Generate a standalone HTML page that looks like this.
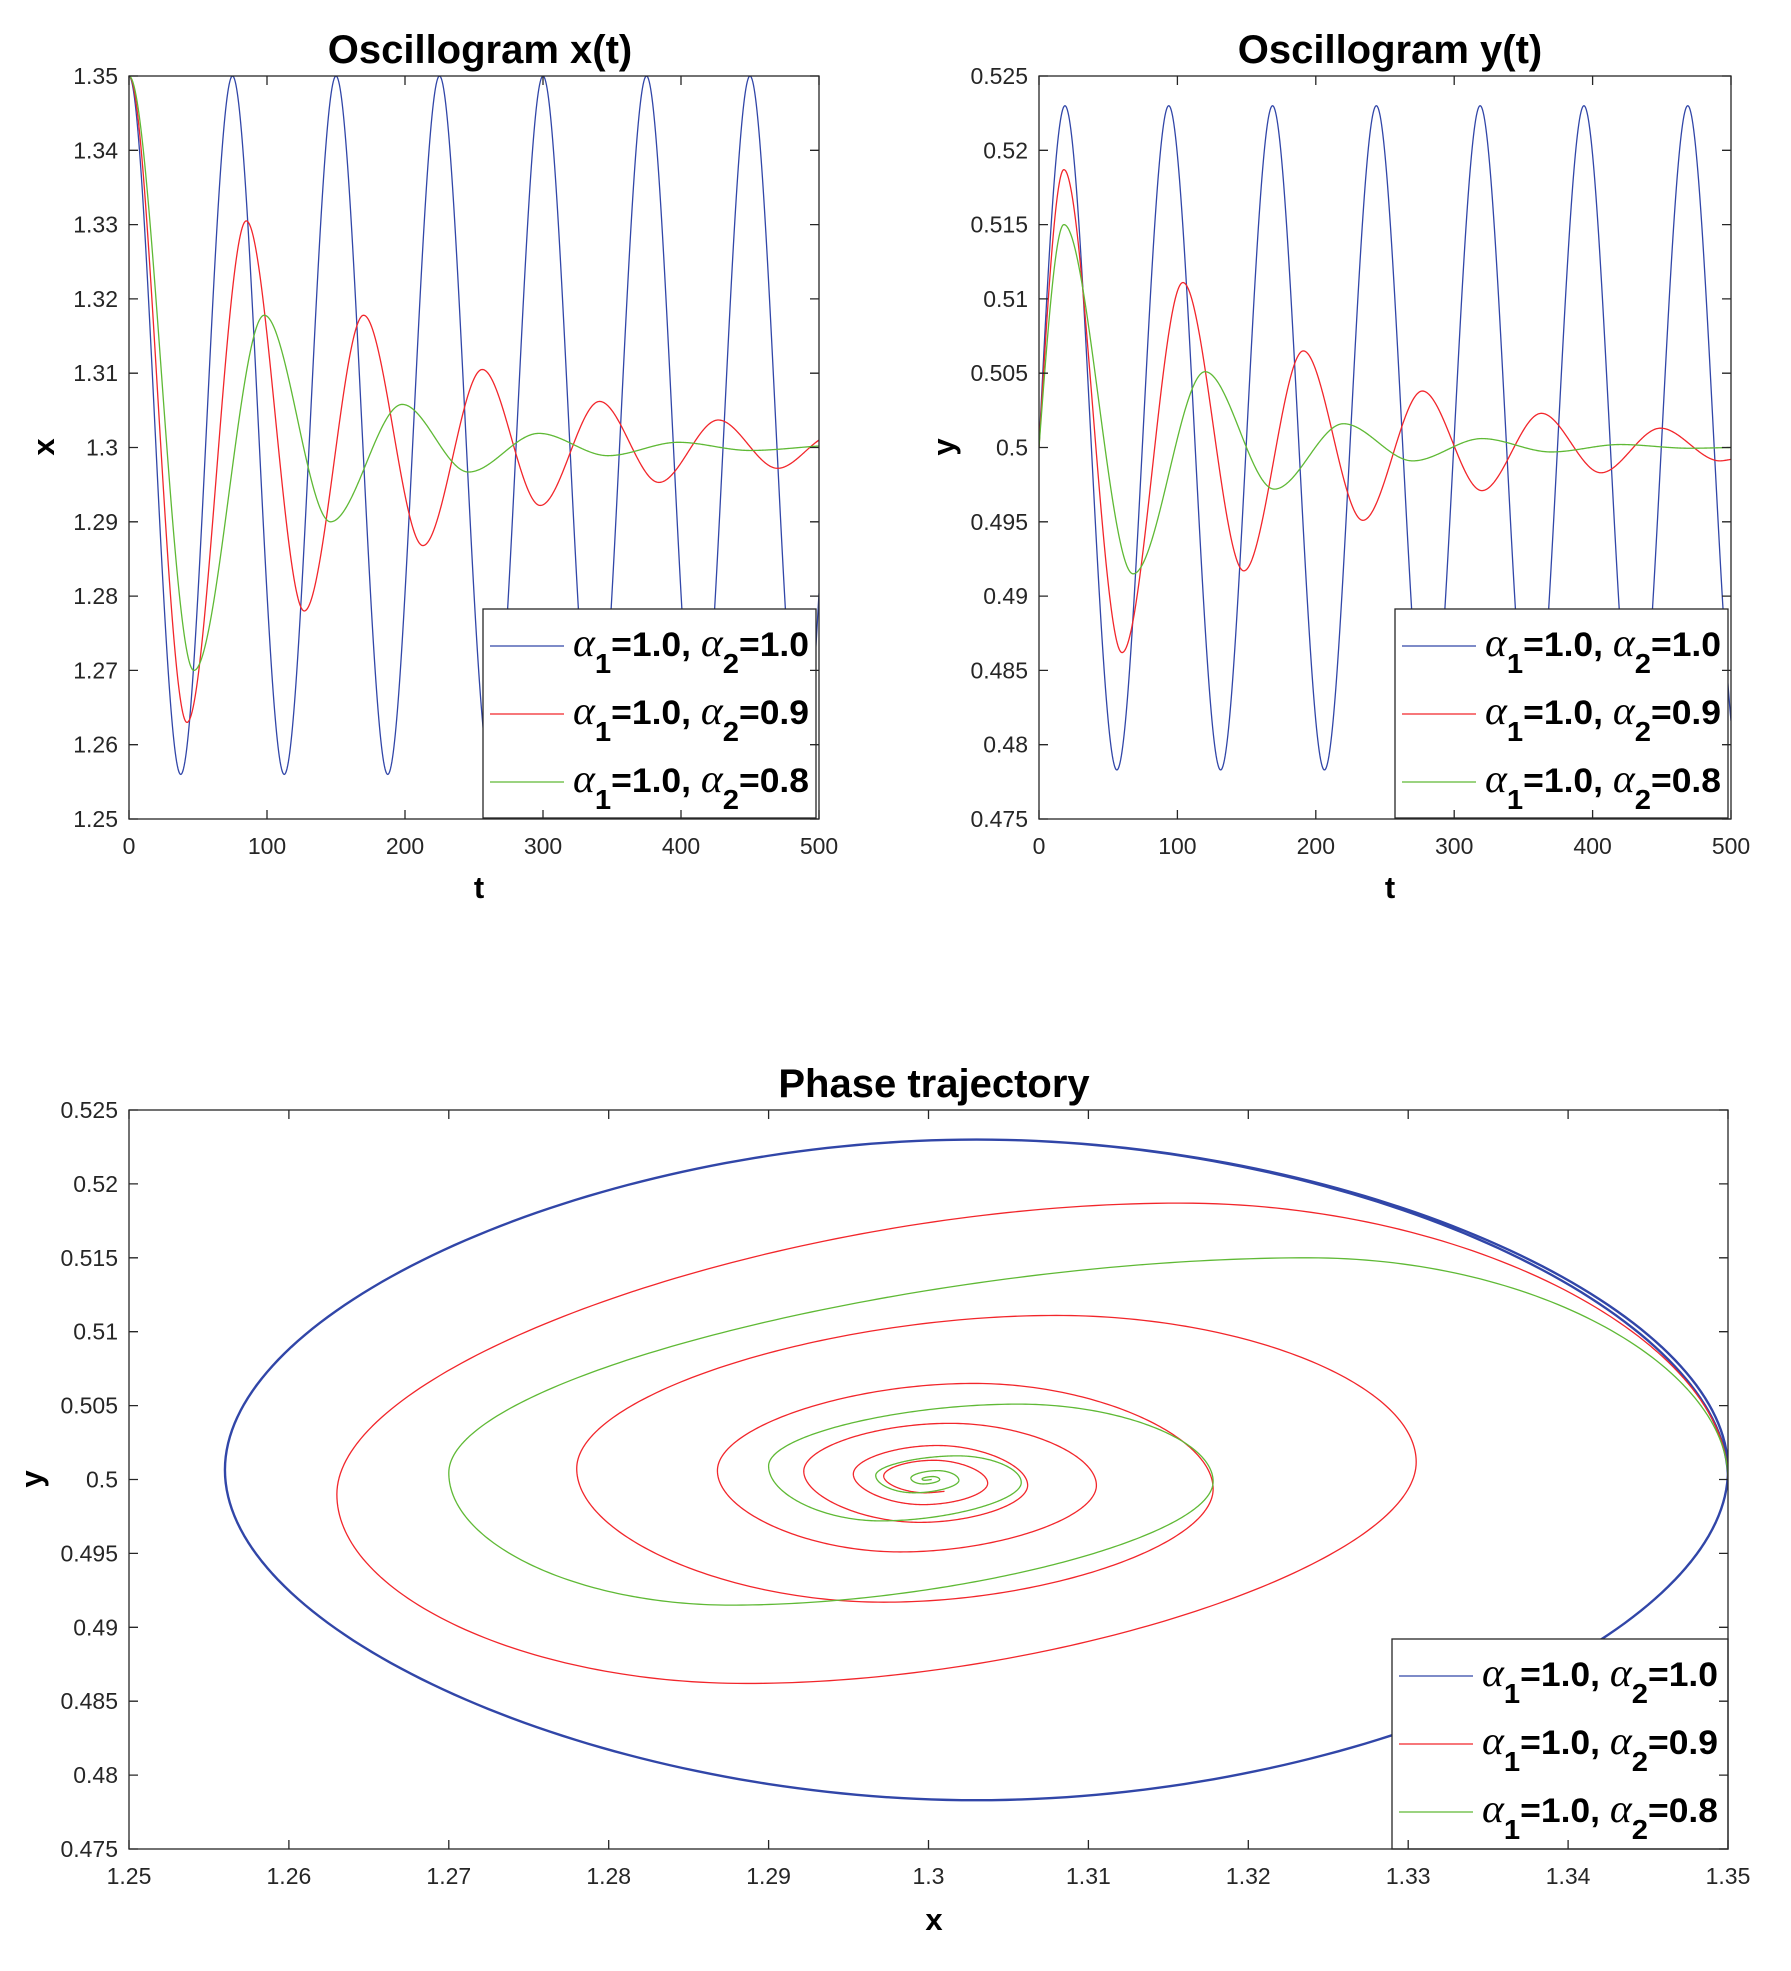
<!DOCTYPE html>
<html><head><meta charset="utf-8"><title>Oscillograms and phase trajectory</title>
<style>
html,body{margin:0;padding:0;background:#fff;}
svg{display:block;font-family:"Liberation Sans",Arial,sans-serif;}
.tick{font-size:23px;fill:#262626;}
.ttl{font-size:40px;font-weight:bold;fill:#000;}
.albl{font-size:31px;font-weight:bold;fill:#000;}
.leg{font-size:34px;font-weight:bold;fill:#000;}
</style></head>
<body>
<svg id="fig" width="1791" height="1971" viewBox="0 0 1791 1971" xmlns="http://www.w3.org/2000/svg">
<defs>
<clipPath id="c1"><rect x="129" y="76" width="690" height="743"/></clipPath>
<clipPath id="c2"><rect x="1039" y="76" width="692" height="743"/></clipPath>
<clipPath id="c3"><rect x="129" y="1110" width="1599" height="739"/></clipPath>
</defs>
</svg>
<script>
// ---- data: extrema times & values ----
const xBlueT=[0,37.5,75,112.5,150,187.5,225,262.5,300,337.5,375,412.5,450,487.5,525];
const xBlueV=[1.35,1.256,1.35,1.256,1.35,1.256,1.35,1.256,1.35,1.256,1.35,1.256,1.35,1.256,1.35];
const xRedT=[0,42,85,127,170,213,256,298,341,384,427,470,500];
const xRedV=[1.35,1.263,1.3305,1.278,1.3178,1.2868,1.3105,1.2922,1.3062,1.2953,1.3037,1.2972,1.301];
const xGreenT=[0,47,98,146,198,246,297,347,398,450,500];
const xGreenV=[1.35,1.270,1.3178,1.290,1.3058,1.2967,1.3019,1.2989,1.3007,1.2996,1.3002];
const yBlueT=[0,18.75,56.25,93.75,131.25,168.75,206.25,243.75,281.25,318.75,356.25,393.75,431.25,468.75,506.25];
const yBlueV=[0.5,0.523,0.4783,0.523,0.4783,0.523,0.4783,0.523,0.4783,0.523,0.4783,0.523,0.4783,0.523,0.4783];
const yRedT=[0,18,60,104,148,191,234,277,320,363,406,449,492,500];
const yRedV=[0.5,0.5187,0.4862,0.5111,0.4917,0.5065,0.4951,0.5038,0.4971,0.5023,0.4983,0.5013,0.4991,0.4992];
const yGreenT=[0,18,68,120,170,220,270,320,370,420,470,500];
const yGreenV=[0.5,0.515,0.4915,0.5051,0.4972,0.5016,0.4991,0.5006,0.4997,0.5002,0.49995,0.5];
const tTicks=[0,100,200,300,400,500];
const xTickLabels=["1.25","1.26","1.27","1.28","1.29","1.3","1.31","1.32","1.33","1.34","1.35"];
const yTickLabels=["0.475","0.48","0.485","0.49","0.495","0.5","0.505","0.51","0.515","0.52","0.525"];
const legendLabels=[["1.0","1.0"],["1.0","0.9"],["1.0","0.8"]];
const colors=["#3146a8","#f2262b","#5fb935"];

const NS="http://www.w3.org/2000/svg";
const svg=document.getElementById('fig');
function mk(tag,attrs,parent){const e=document.createElementNS(NS,tag);for(const k in attrs)e.setAttribute(k,attrs[k]);(parent||svg).appendChild(e);return e;}

function interp(ts,vs,startFlat,endFlat){
  const n=ts.length,d=[],m=[];
  for(let i=0;i<n-1;i++)d.push((vs[i+1]-vs[i])/(ts[i+1]-ts[i]));
  m[0]=startFlat?0:d[0]*1.5;
  for(let i=1;i<n-1;i++){m[i]=(d[i-1]*d[i]<=0)?0:(d[i-1]+d[i])/2;}
  m[n-1]=endFlat?0:d[n-2];
  return function(t){
    let k=0;while(k<n-2&&t>ts[k+1])k++;
    const h=ts[k+1]-ts[k],s=(t-ts[k])/h,s2=s*s,s3=s2*s;
    return (2*s3-3*s2+1)*vs[k]+(s3-2*s2+s)*h*m[k]+(-2*s3+3*s2)*vs[k+1]+(s3-s2)*h*m[k+1];
  };
}
const fx=[interp(xBlueT,xBlueV,true,true),interp(xRedT,xRedV,true,false),interp(xGreenT,xGreenV,true,false)];
const fy=[interp(yBlueT,yBlueV,false,true),interp(yRedT,yRedV,false,false),interp(yGreenT,yGreenV,false,false)];

const A1={x:t=>129+t/500*690,y:v=>819-(v-1.25)/0.1*743};
const A2={x:t=>1039+t/500*692,y:v=>819-(v-0.475)/0.05*743};
const A3={x:v=>129+(v-1.25)/0.1*1599,y:v=>1849-(v-0.475)/0.05*739};

function box(x0,y0,w,h,name){
  const r=mk('rect',{x:x0,y:y0,width:w,height:h,fill:'#fff',stroke:'none'});
  
}
function frame(x0,y0,w,h,name){
  const r=mk('rect',{x:x0,y:y0,width:w,height:h,fill:'none',stroke:'#262626','stroke-width':1.3});
  
}
function xticks(xs,labels,x0,y0,y1,name){
  xs.forEach((px,i)=>{
    const l=mk('path',{d:`M${px},${y1}v-9M${px},${y0}v9`,stroke:'#262626','stroke-width':1.3});
    
    const t=mk('text',{x:px,y:y1+35,'text-anchor':'middle',class:'tick'});t.textContent=labels[i];
    
  });
}
function yticks(ys,labels,x0,x1,name){
  ys.forEach((py,i)=>{
    const l=mk('path',{d:`M${x0},${py}h9M${x1},${py}h-9`,stroke:'#262626','stroke-width':1.3});
    
    const t=mk('text',{x:x0-11,y:py+8,'text-anchor':'end',class:'tick'});t.textContent=labels[i];
    
  });
}
function label(txt,x,y,cls,rot,name){
  const t=mk('text',{x:x,y:y,'text-anchor':'middle',class:cls});
  if(rot)t.setAttribute('transform',`rotate(-90 ${x} ${y})`);
  t.textContent=txt;
  
}
function series(pts,clip,color,w,name){
  const p=mk('polyline',{points:pts.map(q=>q[0].toFixed(2)+','+q[1].toFixed(2)).join(' '),fill:'none',stroke:color,'stroke-width':w,'clip-path':`url(#${clip})`,'stroke-linejoin':'round'});
  
}
function legend(x0,y0,w,h,name){
  const g=mk('g',{});
  
  mk('rect',{x:x0,y:y0,width:w,height:h,fill:'#fff',stroke:'#262626','stroke-width':1.3},g);
  legendLabels.forEach((lab,i)=>{
    const cy=y0+37+i*68;
    const ln=mk('line',{x1:x0+7,x2:x0+81,y1:cy,y2:cy,stroke:colors[i],'stroke-width':1.3},g);
    
    const t=mk('text',{x:x0+90,y:cy+10,class:'leg',textLength:236,lengthAdjust:'spacingAndGlyphs'},g);
    
    t.innerHTML=`<tspan font-family="Liberation Serif, serif" font-style="italic" font-weight="normal" font-size="40">α</tspan><tspan dy="17" font-size="28">1</tspan><tspan dy="-17">=${lab[0]}, </tspan><tspan font-family="Liberation Serif, serif" font-style="italic" font-weight="normal" font-size="40">α</tspan><tspan dy="17" font-size="28">2</tspan><tspan dy="-17">=${lab[1]}</tspan>`;
  });
}

// ---------- plot 1: x(t) ----------
box(129,76,690,743,'x-oscillogram');
for(let s=0;s<3;s++){const pts=[];for(let t=0;t<=500;t+=0.5)pts.push([A1.x(t),A1.y(fx[s](t))]);series(pts,'c1',colors[s],1.3,'x-series-'+s);}
legend(483,609,333,209,'x-oscillogram-legend');
frame(129,76,690,743,'x-oscillogram');
xticks(tTicks.map(A1.x),tTicks.map(String),129,76,819,'x-oscillogram');
yticks(xTickLabels.map(s=>A1.y(parseFloat(s))),xTickLabels,129,819,'x-oscillogram');
label('Oscillogram x(t)',480,63,'ttl',false,'x-oscillogram-title');
label('t',479,898,'albl',false,'x-oscillogram-x-axis-title');
label('x',54,447,'albl',true,'x-oscillogram-y-axis-title');

// ---------- plot 2: y(t) ----------
box(1039,76,692,743,'y-oscillogram');
for(let s=0;s<3;s++){const pts=[];for(let t=0;t<=500;t+=0.5)pts.push([A2.x(t),A2.y(fy[s](t))]);series(pts,'c2',colors[s],1.3,'y-series-'+s);}
legend(1395,609,333,209,'y-oscillogram-legend');
frame(1039,76,692,743,'y-oscillogram');
xticks(tTicks.map(A2.x),tTicks.map(String),1039,76,819,'y-oscillogram');
yticks(yTickLabels.map(s=>A2.y(parseFloat(s))),yTickLabels,1039,1731,'y-oscillogram');
label('Oscillogram y(t)',1390,63,'ttl',false,'y-oscillogram-title');
label('t',1390,898,'albl',false,'y-oscillogram-x-axis-title');
label('y',954,447,'albl',true,'y-oscillogram-y-axis-title');

// ---------- plot 3: phase ----------
box(129,1110,1599,739,'phase');
for(let s=0;s<3;s++){const pts=[];for(let t=0;t<=500;t+=0.25)pts.push([A3.x(fx[s](t)),A3.y(fy[s](t))]);series(pts,'c3',colors[s],s===0?2.4:1.3,'phase-series-'+s);}
legend(1392,1639,336,210,'phase-legend');
frame(129,1110,1599,739,'phase');
xticks(xTickLabels.map(s=>A3.x(parseFloat(s))),xTickLabels,129,1110,1849,'phase');
yticks(yTickLabels.map(s=>A3.y(parseFloat(s))),yTickLabels,129,1728,'phase');
label('Phase trajectory',934,1097,'ttl',false,'phase-title');
label('x',934,1930,'albl',false,'phase-x-axis-title');
label('y',42,1479,'albl',true,'phase-y-axis-title');
</script>
</body></html>
